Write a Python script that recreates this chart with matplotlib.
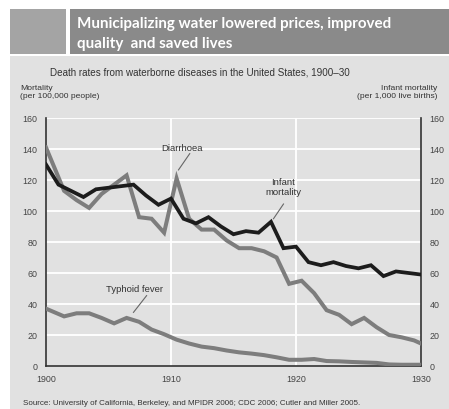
"""Death rates from waterborne diseases in the United States, 1900-30."""

import matplotlib.pyplot as plt
from matplotlib.patches import Rectangle

# infant mortality, plotted on whole years
years_infant = list(range(1900, 1931))
infant = [130, 117, 113, 109, 114, 115, 116, 117, 110, 104,
          108, 95, 92, 96, 90, 85, 87, 86, 93, 76,
          77, 67, 65, 67, 64.5, 63, 65, 58, 61, 60, 59]

# diarrhoea and typhoid sit roughly mid-year in the source chart
years_mid = [1900, 1901.45, 1902.45, 1903.45, 1904.45, 1905.45, 1906.45,
             1907.45, 1908.45, 1909.45, 1910.45, 1911.45, 1912.45, 1913.45,
             1914.45, 1915.45, 1916.45, 1917.45, 1918.45, 1919.45, 1920.45,
             1921.45, 1922.45, 1923.45, 1924.45, 1925.45, 1926.45, 1927.45,
             1928.45, 1929.45, 1930]
diarrhoea = [141, 113, 107, 102, 111, 117, 123, 96, 95, 86,
             121, 95, 88, 88, 81, 76, 76, 74, 70, 53,
             55, 47, 36, 33, 27, 31, 25, 20, 18.5, 16.5, 14.5]
typhoid = [37, 32, 34, 34, 31, 27.5, 31, 28.5, 23.5, 20.5,
           17, 14.5, 12.5, 11.5, 10, 8.8, 8, 7, 5.6, 4,
           4, 4.5, 3.2, 3, 2.6, 2.3, 2, 1, 0.8, 0.8, 0.8]

yticks = [0, 20, 40, 60, 80, 100, 120, 140, 160]
xticks = [1900, 1910, 1920, 1930]

# the original uses a condensed face; Liberation Sans is the narrowest we have
narrow = 'Liberation Sans'
bg = '#e1e1e1'
txt = '#333333'

fig = plt.figure(figsize=(4.49, 4.10), dpi=100)

# grey panel and title banner
fig.patches.append(Rectangle((0.0223, 0), 0.9777, 0.861, transform=fig.transFigure,
                             facecolor=bg, edgecolor='none', zorder=-10))
fig.patches.append(Rectangle((0.0223, 0.866), 0.125, 0.11, transform=fig.transFigure,
                             facecolor='#a4a4a4', edgecolor='none', zorder=-10))
fig.patches.append(Rectangle((0.156, 0.866), 0.844, 0.11, transform=fig.transFigure,
                             facecolor='#8a8a8a', edgecolor='none', zorder=-10))
fig.text(0.171, 0.941, 'Municipalizing water lowered prices, improved',
         color='white', fontsize=10.9, fontweight='bold', family='Lato', va='center')
fig.text(0.171, 0.893, 'quality  and saved lives',
         color='white', fontsize=10.9, fontweight='bold', family='Lato', va='center')

fig.text(0.111, 0.822, 'Death rates from waterborne diseases in the United States, 1900\u201330',
         fontsize=7.1, family=narrow, color=txt, va='center')
fig.text(0.044, 0.774, 'Mortality\n(per 100,000 people)', fontsize=6.1, family=narrow,
         color=txt, va='center', linespacing=1.25)
fig.text(0.974, 0.774, 'Infant mortality\n(per 1,000 live births)', fontsize=6.1,
         family=narrow, color=txt, va='center', ha='right', linespacing=1.25,
         multialignment='right')
fig.text(0.051, 0.017, 'Source: University of California, Berkeley, and MPIDR 2006; '
         'CDC 2006; Cutler and Miller 2005.', fontsize=5.8, family=narrow,
         color=txt, va='center')

ax = fig.add_axes([0.1024, 0.1049, 0.8352, 0.6049])
ax.set_facecolor(bg)
ax.set_xlim(1900, 1930)
ax.set_ylim(0, 160)

for v in yticks[1:]:
    ax.axhline(v, color='white', lw=1.3, zorder=1)
for v in xticks[1:-1]:
    ax.axvline(v, color='white', lw=1.3, zorder=1)

ax.plot(years_mid, typhoid, color='#7d7d7d', lw=2.9, solid_joinstyle='miter', zorder=3)
ax.plot(years_mid, diarrhoea, color='#7d7d7d', lw=2.9, solid_joinstyle='miter', zorder=3)
ax.plot(years_infant, infant, color='#1c1c1c', lw=2.7, solid_joinstyle='miter', zorder=4)

# labels with leader lines
ax.text(1910.9, 141, 'Diarrhoea', fontsize=6.8, family=narrow, color=txt,
        ha='center', va='center')
ax.plot([1911.5, 1910.6], [137, 126.5], color='#666666', lw=0.8)
ax.text(1919.0, 116, 'Infant\nmortality', fontsize=6.8, family=narrow, color=txt,
        ha='center', va='center', linespacing=1.15)
ax.plot([1919.0, 1918.2], [104.5, 95], color='#666666', lw=0.8)
ax.text(1907.1, 50, 'Typhoid fever', fontsize=6.8, family=narrow, color=txt,
        ha='center', va='center')
ax.plot([1908.05, 1907.0], [45.4, 34.6], color='#666666', lw=0.8)

ax.set_xticks(xticks)
ax.set_yticks(yticks)
ax.tick_params(length=0, labelsize=6.4, labelcolor='#444444', labelright=True,
               pad=6)
for lab in ax.get_xticklabels() + ax.yaxis.get_ticklabels():
    lab.set_family(narrow)
ax.spines['top'].set_visible(False)
for s in ['left', 'right', 'bottom']:
    ax.spines[s].set_color('#333333')
    ax.spines[s].set_linewidth(1.2)

fig.savefig('out.png', dpi=100)
